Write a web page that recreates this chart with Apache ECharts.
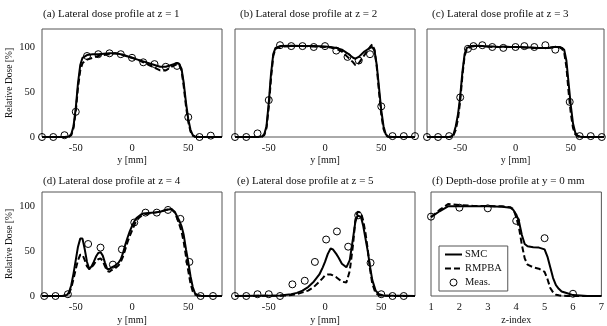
<!DOCTYPE html>
<html><head><meta charset="utf-8">
<script src="https://cdn.jsdelivr.net/npm/echarts@6/dist/echarts.min.js"></script>
<style>html,body{margin:0;padding:0;background:#fff}#c{width:607px;height:326px}</style>
</head><body><div id="c"></div>
<script>
// ---------- data ----------
const titles = ['(a) Lateral dose profile at z = 1','(b) Lateral dose profile at z = 2','(c) Lateral dose profile at z = 3',
  '(d) Lateral dose profile at z = 4','(e) Lateral dose profile at z = 5','(f) Depth-dose profile at y = 0 mm'];
const latTicks = [-50, 0, 50];
const doseTicks = [0, 50, 100];
const zTicks = [1, 2, 3, 4, 5, 6, 7];

// (a)
const posA = [-80,-60,-56,-54,-52,-50,-48,-46,-44,-40,-35,-30,-25,-20,-15,-10,-5,0,5,10,15,20,25,30,35,40,42,44,46,48,50,52,54,56,60,80];
const smcA = [0,0,0.5,3,12,32,60,80,88,91,92,92,92.5,93,93,92,90,88,86,84,82,80,78,78,80,82,81,76,60,38,20,8,2,0.5,0,0];
const rmpA = [0,0,0.3,2,10,28,55,74,82,86,88,90,91,92,93,92,90,88,86,83,80,77,74,74,78,81,80,74,56,34,17,6,1.5,0.3,0,0];
const measPosA = [-80,-70,-60,-50,-40,-30,-20,-10,0,10,20,30,40,50,60,70];
const measA = [0,0,2,28,90,92,93,92,88,83,81,78,79,22,0,1.5];

// (b)
const posB = [-80,-60,-56,-54,-52,-50,-48,-46,-44,-40,-30,-20,-10,0,5,10,15,20,25,27,30,35,40,42,44,46,48,50,52,54,56,60,80];
const smcB = [0,0,0.5,3,12,38,70,92,99,101,101.5,101,101,100.5,100,99,97,93,88,87,89,95,99,100,96,80,55,30,12,3,0.5,0,0];
const rmpB = [0,0,0.3,2,10,33,65,90,98,100.5,101,101,100.5,100,99.5,98,95,89,83,80,82,91,100,103,97,78,50,25,9,2,0.3,0,0];
const measPosB = [-80,-70,-60,-50,-40,-30,-20,-10,0,10,20,30,40,50,60,70,80];
const measB = [0,0,4,41,102,101,101,100,101,96,89,85,92,34,1,1,1];

// (c)
const posC = [-80,-60,-58,-56,-54,-52,-50,-48,-46,-44,-40,-35,-30,-25,-20,-15,-10,-5,0,5,10,15,20,25,30,35,40,42,44,46,48,50,52,54,56,58,60,80];
const smcC = [0,0,0.5,3,12,25,45,72,92,99,101,101.5,101,100.5,100.5,100,100.5,100,100,100,99.5,99.5,99,99,99,100,100,99,97,85,60,35,15,5,1.5,0.5,0,0];
const rmpC = [0,0,0.2,2,8,20,40,68,90,98,100.5,101,101,100.5,100,100,100,100,100,99.5,99.5,99,99,99,99,100,99.5,98,94,78,50,26,10,3,0.8,0.2,0,0];
const measPosC = [-80,-70,-60,-50,-43,-38,-30,-21,-11,0,8,17,27,36,49,58,68,78];
const measC = [0,0,1,44,98,101,102,100,99,100,101,100,102,97,39,1,1,0];

// (d)
const posD = [-80,-62,-58,-56,-54,-52,-50,-48,-46,-45,-44,-42,-40,-38,-36,-34,-32,-30,-28,-26,-24,-22,-20,-18,-15,-12,-10,-8,-6,-4,-2,0,2,4,6,8,10,15,20,25,30,35,38,40,42,44,46,48,50,52,54,56,58,62,80];
const smcD = [0,0,1,4,12,25,40,55,64,66,64,52,38,30,33,38,44,48,49,45,37,30,30,32,34,37,41,48,57,65,72,78,83,87,89,91,92,92.5,93,94,96,97,94,89,84,78,68,52,38,22,10,3,1,0,0];
const rmpD = [0,0,0.5,3,9,19,30,40,46,47,46,40,33,30,32,35,39,41,42,39,33,28,27,29,31,34,38,44,52,60,67,73,79,84,87,89,91,92,93,94,96,97,93,87,80,72,60,44,28,14,5,1.5,0.5,0,0];
const measPosD = [-78,-68,-57,-39,-28,-17,-9,2,12,22,32,43,51,61,72];
const measD = [0,0,2,58,54,35,52,82,93,93,96,86,38,0,0];

// (e)
const posE = [-80,-40,-30,-25,-20,-15,-10,-5,-2,0,2.5,5,7,10,12,15,19,22,25,27,29,30,32,34,36,38,40,42,45,48,52,80];
const smcE = [0,0.5,2,3.5,6,10,16,24,32,38,47,53,52,47,43,36,32,40,65,83,90,91,88,78,64,50,33,18,6,2,0.5,0];
const rmpE = [0,0.3,1,2,4,6,10,16,20,23,24,24,23,21,19,16,15,28,58,85,94,95,93,84,70,52,30,14,3,1,0.2,0];
const measPosE = [-80,-70,-60,-50,-40,-29,-18,-9,1,10.6,20.6,29.5,40.5,50,60,70];
const measE = [0,0,2,2,0,13,17,38,63,72,55,90,37,2,0,0];

// (f)
const posF = [1,1.3,1.6,2,2.5,3,3.5,3.8,3.9,4,4.1,4.2,4.3,4.4,4.6,4.8,5,5.1,5.2,5.3,5.4,5.5,5.6,5.8,6,6.5,7];
const smcF = [88,94.5,100,100,100,100,99.5,98.5,96,91,83,68,58,55.5,54.5,54,52,44,32,20,12,8,5,3,1,0,0];
const rmpF = [88,96,102.5,101.5,100.5,100.5,100,99,97,88,76,57,42,35,32,30.5,27,19,9,4,1.5,0.8,0.3,0,0,0,0];
const measPosF = [1,2,3,4,5,6];
const measF = [88.5,98.5,97.8,83.8,64.5,2.5];

// ---------- layout ----------
const FONT = '"Liberation Serif","Times New Roman",serif';
const grids = [
  {left:42, top:29, width:180, height:108},
  {left:235, top:29, width:180, height:108},
  {left:427, top:29, width:180, height:108},
  {left:42, top:192, width:180, height:106},
  {left:235, top:192, width:180, height:106},
  {left:431, top:192, width:173, height:106}
];
const titlePos = [[43,9],[240,9],[432,9],[43,176],[237,176],[432,176]];
const panels = [
  [posA,smcA,rmpA,measPosA,measA],[posB,smcB,rmpB,measPosB,measB],[posC,smcC,rmpC,measPosC,measC],
  [posD,smcD,rmpD,measPosD,measD],[posE,smcE,rmpE,measPosE,measE],[posF,smcF,rmpF,measPosF,measF]
];
const zip = (xs, ys) => xs.map((x, i) => [x, ys[i]]);

const xAxis = [], yAxis = [], series = [];
grids.forEach((g, i) => {
  const isF = i === 5;
  const bottomRow = i >= 3;
  xAxis.push({
    type:'value', gridIndex:i,
    min: isF ? 1 : -80, max: isF ? 7 : 80, interval: isF ? 1 : 10,
    name: isF ? 'z-index' : 'y [mm]', nameLocation:'middle', nameGap: bottomRow ? 19 : 17,
    nameTextStyle:{fontFamily:FONT, fontSize:10, color:'#111'},
    axisLine:{show:false}, axisTick:{show:false}, splitLine:{show:false},
    axisLabel:{fontFamily:FONT, fontSize:10.5, color:'#111', margin:6,
      formatter: v => (isF ? (zTicks.includes(v) ? String(v) : '') : (latTicks.includes(v) ? String(v) : ''))}
  });
  const showY = (i === 0 || i === 3);
  yAxis.push({
    type:'value', gridIndex:i, min:0, max: bottomRow ? 116 : 120, interval:10,
    name: showY ? 'Relative Dose [%]' : '', nameLocation:'middle', nameGap:28,
    nameTextStyle:{fontFamily:FONT, fontSize:9.5, color:'#111'},
    axisLine:{show:false}, axisTick:{show:false}, splitLine:{show:false},
    axisLabel:{show: showY, fontFamily:FONT, fontSize:10.5, color:'#111', margin:7,
      formatter: v => (doseTicks.includes(v) ? String(v) : '')}
  });
  const [px, smc, rmp, mx, meas] = panels[i];
  series.push({type:'line', name:'SMC', xAxisIndex:i, yAxisIndex:i, data:zip(px, smc),
    symbol:'none', lineStyle:{color:'#000', width:2}, itemStyle:{color:'#000'}, z:3});
  series.push({type:'line', name:'RMPBA', xAxisIndex:i, yAxisIndex:i, data:zip(px, rmp),
    symbol:'none', lineStyle:{color:'#000', width:2, type:[6,3]}, itemStyle:{color:'#000'}, z:3});
  series.push({type:'scatter', name:'Meas.', xAxisIndex:i, yAxisIndex:i, data:zip(mx, meas),
    symbol:'circle', symbolSize:7, itemStyle:{color:'rgba(255,255,255,0)', borderColor:'#000', borderWidth:1, opacity:1}, z:4});
});

const hiddenSym = {color:'rgba(0,0,0,0)', borderColor:'rgba(0,0,0,0)', borderWidth:0};
const chart = echarts.init(document.getElementById('c'), null, {renderer:'canvas'});
chart.setOption({
  animation:false,
  backgroundColor:'#fff',
  title: titles.map((t, i) => ({text:t, left:titlePos[i][0], top:titlePos[i][1], padding:0,
    textStyle:{fontFamily:FONT, fontSize:11, fontWeight:'normal', color:'#111'}})),
  grid: grids.map(g => Object.assign({show:true, borderColor:'#555', borderWidth:1, backgroundColor:'transparent'}, g)),
  legend: {
    data:[{name:'SMC', itemStyle:hiddenSym}, {name:'RMPBA', itemStyle:hiddenSym},
          {name:'Meas.', itemStyle:{color:'rgba(255,255,255,0)', borderColor:'#000', borderWidth:1}}],
    orient:'vertical', left:439, top:246,
    backgroundColor:'#fff', borderColor:'#555', borderWidth:1, padding:[3,6,3,5],
    itemWidth:17, itemHeight:7, itemGap:3, selectedMode:false,
    textStyle:{fontFamily:FONT, fontSize:10.5, color:'#111', padding:[0,0,0,-2]}
  },
  xAxis, yAxis, series
});
</script></body></html>
